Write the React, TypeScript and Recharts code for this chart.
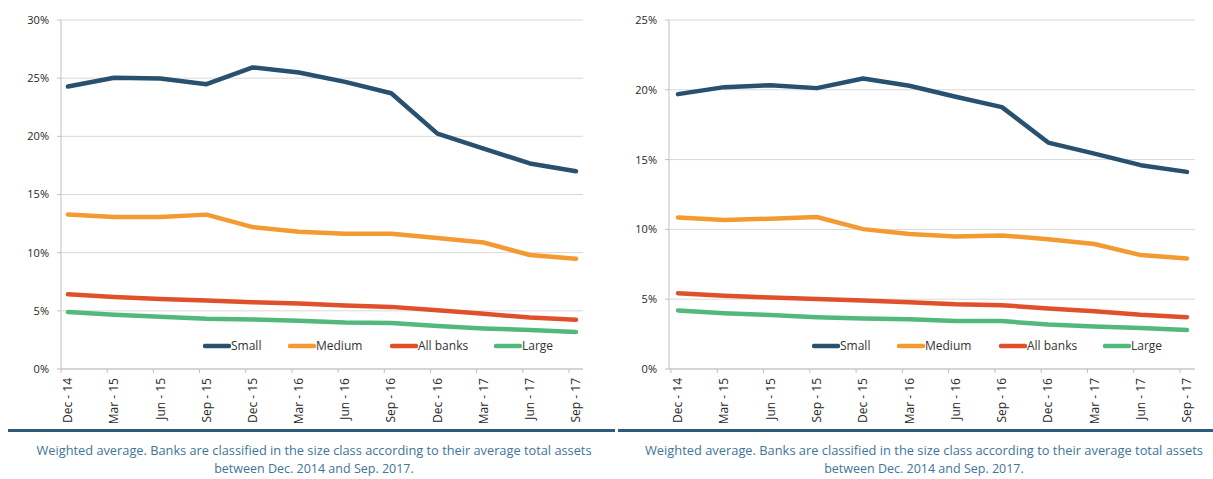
import React from "react";
import { LineChart, Line, XAxis, YAxis, CartesianGrid, Legend } from "recharts";

const QUARTERS = [
  "Dec - 14", "Mar - 15", "Jun - 15", "Sep - 15", "Dec - 15", "Mar - 16",
  "Jun - 16", "Sep - 16", "Dec - 16", "Mar - 17", "Jun - 17", "Sep - 17",
];

// left panel
const smallA = [24.28, 25.03, 24.97, 24.48, 25.92, 25.49, 24.68, 23.7, 20.23, 18.94, 17.67, 17.0];
const mediumA = [13.29, 13.06, 13.06, 13.27, 12.2, 11.8, 11.62, 11.62, 11.27, 10.87, 9.8, 9.48];
const allBanksA = [6.42, 6.19, 6.02, 5.88, 5.74, 5.63, 5.45, 5.34, 5.06, 4.74, 4.43, 4.23];
const largeA = [4.89, 4.66, 4.49, 4.32, 4.26, 4.15, 4.0, 3.95, 3.69, 3.49, 3.35, 3.18];
const ticksA = [0, 5, 10, 15, 20, 25, 30];

// right panel
const smallB = [19.69, 20.19, 20.33, 20.12, 20.81, 20.29, 19.5, 18.76, 16.22, 15.43, 14.6, 14.12];
const mediumB = [10.86, 10.67, 10.77, 10.89, 10.02, 9.67, 9.5, 9.57, 9.3, 8.95, 8.16, 7.92];
const allBanksB = [5.43, 5.24, 5.12, 5.02, 4.9, 4.79, 4.64, 4.57, 4.33, 4.14, 3.88, 3.71];
const largeB = [4.19, 4.0, 3.86, 3.71, 3.62, 3.57, 3.43, 3.43, 3.19, 3.05, 2.93, 2.79];
const ticksB = [0, 5, 10, 15, 20, 25];

const NOTE_1 = "Weighted average. Banks are classified in the size class according to their average total assets";
const NOTE_2 = "between Dec. 2014 and Sep. 2017.";

const SERIES = [
  { key: "small", name: "Small", color: "#28506f" },
  { key: "medium", name: "Medium", color: "#f39a32" },
  { key: "allBanks", name: "All banks", color: "#e0502a" },
  { key: "large", name: "Large", color: "#52b87c" },
];

const FONT = "'Open Sans', sans-serif";

function makeRows(small: number[], medium: number[], allBanks: number[], large: number[]) {
  return QUARTERS.map((q, i) => ({
    q,
    small: small[i],
    medium: medium[i],
    allBanks: allBanks[i],
    large: large[i],
  }));
}

const QuarterTick = (props: any) => {
  const { x, y, payload } = props;
  const ty = y + 9;
  return (
    <g>
      <line x1={x - 7} x2={x - 7} y1={y} y2={y + 4} stroke="#bfbfbf" />
      <text
        x={x}
        y={ty}
        transform={`rotate(-90 ${x} ${ty})`}
        textAnchor="end"
        dy="0.35em"
        fontSize={12}
        fontFamily={FONT}
        fill="#262626"
      >
        {payload.value}
      </text>
    </g>
  );
};

const itemWidths = [85, 102, 104, 60];

const LegendRow = () => (
  <div style={{ display: "flex", alignItems: "center", fontFamily: FONT, fontSize: 12, color: "#333" }}>
    {SERIES.map((s, i) => (
      <div key={s.key} style={{ width: itemWidths[i], display: "flex", alignItems: "center" }}>
        <svg width={28} height={6}>
          <line x1={2} x2={26} y1={3} y2={3} stroke={s.color} strokeWidth={4.5} strokeLinecap="round" />
        </svg>
        <span>{s.name}</span>
      </div>
    ))}
  </div>
);

interface PanelProps {
  rows: any[];
  ticks: number[];
  left: number;
  width: number;
  marginLeft: number;
  marginRight: number;
  pad: { left: number; right: number };
  legendLeft: number;
}

function Panel({ rows, ticks, left, width, marginLeft, marginRight, pad, legendLeft }: PanelProps) {
  return (
    <div style={{ position: "absolute", left, top: 0 }}>
      <LineChart
        width={width}
        height={430}
        data={rows}
        margin={{ top: 20, right: marginRight, left: marginLeft, bottom: 1 }}
      >
        <CartesianGrid vertical={false} stroke="#d9d9d9" />
        <XAxis
          dataKey="q"
          interval={0}
          height={60}
          padding={pad}
          tickLine={false}
          tickSize={0}
          tickMargin={0}
          axisLine={{ stroke: "#bfbfbf" }}
          tick={<QuarterTick />}
        />
        <YAxis
          width={50}
          domain={[0, ticks[ticks.length - 1]]}
          ticks={ticks}
          tickFormatter={(v) => `${v}%`}
          tickSize={4}
          tickMargin={8}
          tickLine={{ stroke: "#bfbfbf" }}
          axisLine={{ stroke: "#bfbfbf" }}
          tick={{ fontSize: 11, fill: "#262626", fontFamily: FONT }}
        />
        <Legend
          layout="horizontal"
          verticalAlign="middle"
          align="center"
          content={<LegendRow />}
          wrapperStyle={{ left: legendLeft, top: 337, width: "auto" }}
        />
        {SERIES.map((s) => (
          <Line
            key={s.key}
            type="linear"
            dataKey={s.key}
            name={s.name}
            stroke={s.color}
            strokeWidth={4.5}
            strokeLinecap="round"
            strokeLinejoin="round"
            dot={false}
            isAnimationActive={false}
          />
        ))}
      </LineChart>
    </div>
  );
}

export default function App() {
  const rowsA = makeRows(smallA, mediumA, allBanksA, largeA);
  const rowsB = makeRows(smallB, mediumB, allBanksB, largeB);
  return (
    <div style={{ position: "absolute", left: 0, top: 0, width: 1213, height: 479, background: "#fff" }}>
      <svg width={1213} height={479} style={{ position: "absolute", left: 0, top: 0 }}>
        <rect x={8} y={429} width={607} height={3} fill="#2f5b7b" />
        <rect x={618} y={429} width={595} height={3} fill="#2f5b7b" />
        <g fontFamily={FONT} fontSize={12.5} fill="#41749a" textAnchor="middle">
          <text x={314} y={455} textLength={555} lengthAdjust="spacingAndGlyphs">{NOTE_1}</text>
          <text x={314} y={473}>{NOTE_2}</text>
          <text x={924} y={455} textLength={558} lengthAdjust="spacingAndGlyphs">{NOTE_1}</text>
          <text x={924} y={473}>{NOTE_2}</text>
        </g>
      </svg>
      <Panel
        rows={rowsA}
        ticks={ticksA}
        left={0}
        width={600}
        marginLeft={11}
        marginRight={17}
        pad={{ left: 7, right: 7 }}
        legendLeft={203}
      />
      <Panel
        rows={rowsB}
        ticks={ticksB}
        left={610}
        width={603}
        marginLeft={9}
        marginRight={18}
        pad={{ left: 9, right: 8 }}
        legendLeft={202}
      />
    </div>
  );
}
